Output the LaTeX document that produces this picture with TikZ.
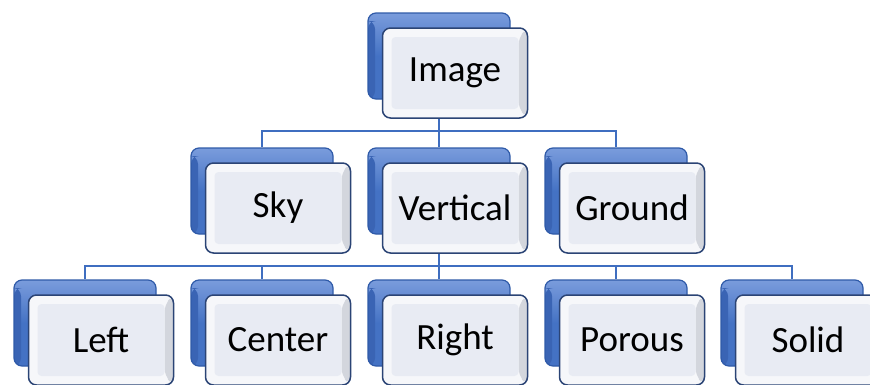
\documentclass[tikz,border=0pt]{standalone}
\usepackage{fontspec}
\setmainfont{Carlito}
\usetikzlibrary{calc}

\definecolor{backblue}{HTML}{4472C4}
\definecolor{backtop}{HTML}{7A9CDC}
\definecolor{backedge}{HTML}{2F5AA8}
\definecolor{backshade}{HTML}{3A64B4}
\definecolor{frontedge}{HTML}{2B4475}
\definecolor{frontrim}{HTML}{F6F7FA}
\definecolor{frontface}{HTML}{E8EBF3}
\definecolor{rimgray}{HTML}{D3D6DD}
\definecolor{linkblue}{HTML}{3F6EC0}

\tikzset{
  backbox/.style={
    rectangle, rounded corners=8pt, minimum width=142pt, minimum height=86pt,
    inner sep=0pt, draw=backedge, line width=1.2pt,
    top color=backtop, bottom color=backblue, middle color=backblue,
    path picture={
      \fill[backshade]
        ([shift={(0pt,-8pt)}]path picture bounding box.north west) rectangle
        ([shift={(7pt,0pt)}]path picture bounding box.south west);
    }},
  frontbox/.style={
    rectangle, rounded corners=8pt, minimum width=145pt, minimum height=90pt,
    inner sep=0pt, draw=frontedge, line width=1.5pt, fill=frontrim,
    font=\fontsize{37}{40}\selectfont,
    path picture={
      \fill[rimgray]
        ([shift={(-9pt,-9pt)}]path picture bounding box.north east) --
        (path picture bounding box.north east) --
        (path picture bounding box.south east) --
        ([shift={(-9pt,9pt)}]path picture bounding box.south east) -- cycle;
      \fill[frontface, rounded corners=4pt]
        ([shift={(9pt,9pt)}]path picture bounding box.south west) rectangle
        ([shift={(-9pt,-9pt)}]path picture bounding box.north east);
    }},
  link/.style={draw=linkblue, line width=1.8pt}
}

% one stacked unit: blue back card plus labelled front card
\newcommand{\stackcard}[4]{%
  \node[backbox] (#1b) at (#2,#3) {};
  \node[frontbox] (#1) at ($(#2,#3)+(16,17)$) {#4};
}

\begin{document}
\begin{tikzpicture}[x=1pt,y=-1pt]
\useasboundingbox (0,0) rectangle (870,384);

% bus points of the two connector levels and the feet they hang from
\coordinate (foot1) at (439,100);
\coordinate (bus1) at (439,131);
\coordinate (foot2) at (439,235);
\coordinate (bus2) at (439,266);

% connector stems sit behind the cards
\draw[link] (foot1) -- (bus1);
\draw[link] (foot2) -- (bus2);

\stackcard{img}{439}{56}{Image}
\stackcard{sky}{262}{191}{Sky}
\stackcard{vert}{439}{191}{Vertical}
\stackcard{grd}{616}{191}{Ground}

\draw[link] (bus1) -| (skyb.north);
\draw[link] (bus1) -- (vertb.north);
\draw[link] (bus1) -| (grdb.north);

\stackcard{lft}{85}{323}{Left}
\stackcard{ctr}{262}{323}{Center}
\stackcard{rgt}{439}{323}{Right}
\stackcard{por}{616}{323}{Porous}
\stackcard{sol}{792}{323}{Solid}

\draw[link] (bus2) -| (lftb.north);
\draw[link] (bus2) -| (ctrb.north);
\draw[link] (bus2) -- (rgtb.north);
\draw[link] (bus2) -| (porb.north);
\draw[link] (bus2) -| (solb.north);
\end{tikzpicture}
\end{document}
